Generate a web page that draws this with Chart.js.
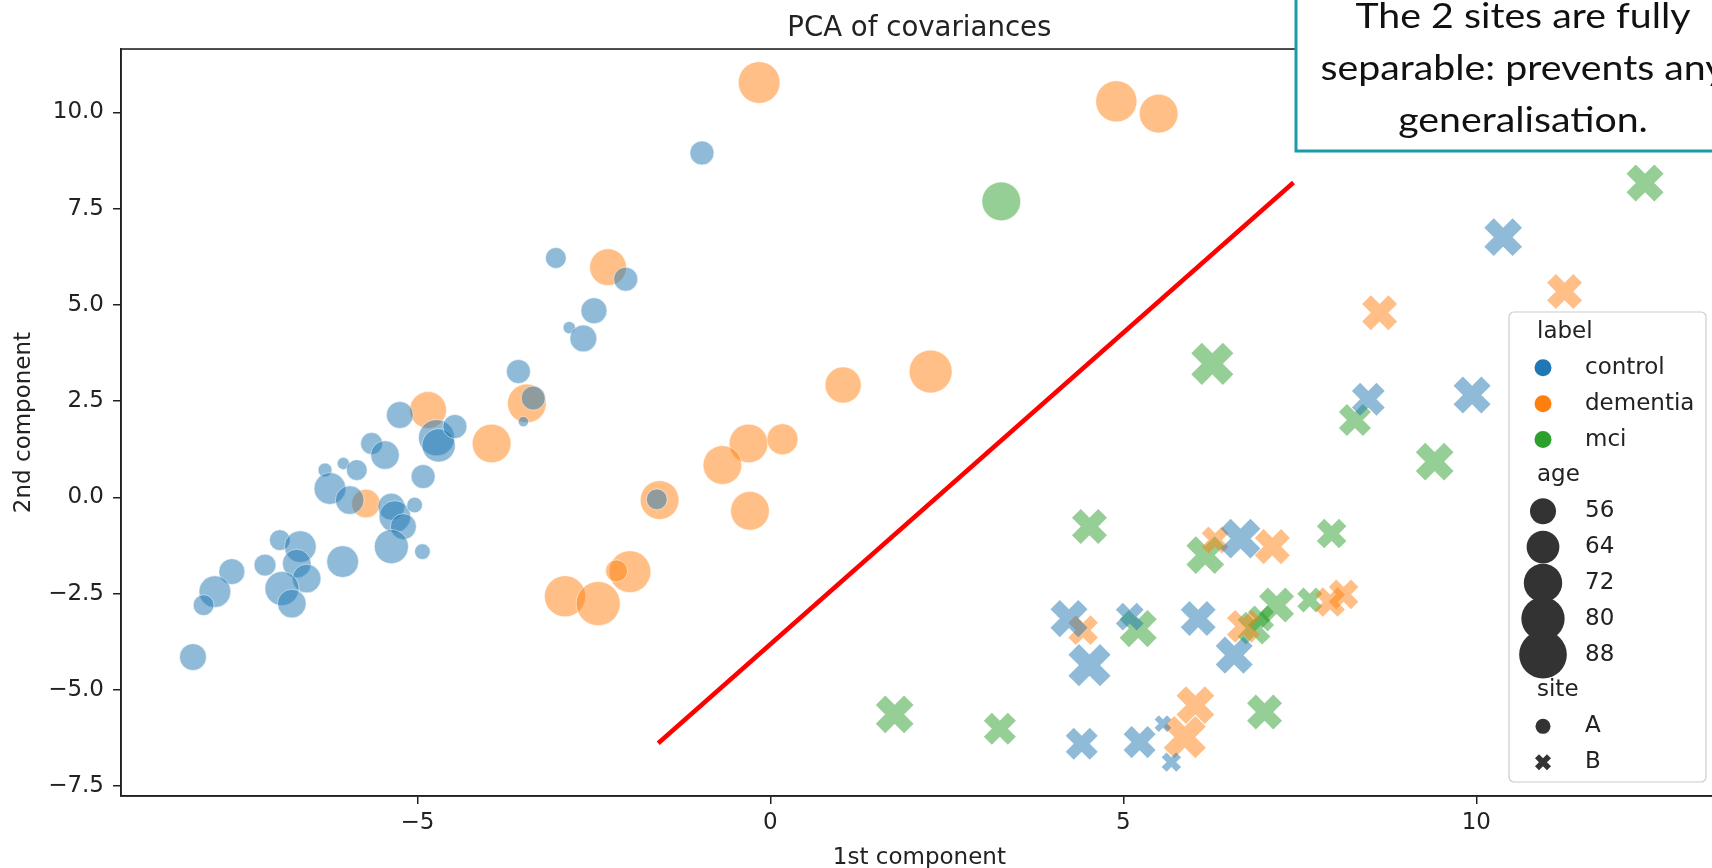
<!DOCTYPE html>
<html>
<head>
<meta charset="utf-8">
<script src="https://cdn.jsdelivr.net/npm/chart.js@4.4.1/dist/chart.umd.min.js"></script>
<style>
  html, body { margin: 0; padding: 0; background: #fff; overflow: hidden; }
  #wrap { position: absolute; left: 0; top: 0; width: 1755px; height: 868px; }
</style>
</head>
<body>
<div id="wrap"><canvas id="pca"></canvas></div>
<script>
/* ---- data: [1st component, 2nd component, age] ---- */
const controlA = [
  [-3.57, 3.27, 55], [-3.36, 2.58, 55], [-3.50, 1.97, 45], [-5.25, 2.14, 58], [-4.73, 1.55, 70],
  [-4.70, 1.35, 66], [-4.47, 1.84, 55], [-4.92, 0.54, 55], [-5.65, 1.40, 53], [-5.46, 1.10, 60],
  [-6.05, 0.88, 46], [-5.86, 0.71, 52], [-6.31, 0.71, 47], [-6.24, 0.23, 64], [-5.96, -0.07, 60],
  [-5.37, -0.24, 58], [-5.32, -0.50, 64], [-5.20, -0.76, 57], [-5.04, -0.20, 48], [-5.37, -1.28, 67],
  [-4.93, -1.41, 48], [-6.06, -1.67, 64], [-6.95, -1.11, 52], [-6.66, -1.28, 64], [-6.71, -1.72, 60],
  [-6.57, -2.11, 60], [-7.16, -1.76, 53], [-6.92, -2.37, 67], [-6.78, -2.76, 60], [-7.63, -1.93, 57],
  [-7.87, -2.45, 64], [-8.03, -2.80, 52], [-8.18, -4.15, 58], [-0.97, 8.95, 55], [-3.04, 6.22, 52],
  [-2.05, 5.67, 55], [-2.50, 4.85, 57], [-2.85, 4.41, 46], [-2.65, 4.13, 58], [-1.61, -0.05, 52]
];
const dementiaA = [
  [-4.85, 2.27, 71], [-3.45, 2.44, 74], [-3.95, 1.40, 74], [-5.73, -0.16, 60], [-0.16, 10.78, 79],
  [-2.30, 5.98, 71], [1.03, 2.92, 70], [2.27, 3.27, 81], [-0.31, 1.40, 74], [0.17, 1.51, 63],
  [-0.68, 0.84, 74], [-0.29, -0.35, 74], [-1.57, -0.07, 74], [-1.99, -1.93, 79], [-2.18, -1.91, 53],
  [-2.91, -2.57, 78], [-2.44, -2.76, 83], [4.90, 10.29, 78], [5.50, 9.97, 74]
];
const mciA = [
  [3.27, 7.69, 74]
];
const controlB = [
  [10.38, 6.76, 71], [8.47, 2.55, 64], [9.94, 2.66, 70], [6.66, -1.07, 74], [4.23, -3.15, 70],
  [4.52, -4.36, 78], [5.09, -3.10, 58], [6.06, -3.15, 67], [6.57, -4.10, 70], [4.41, -6.40, 63],
  [5.23, -6.36, 63], [5.56, -5.88, 48], [5.68, -6.88, 50]
];
const dementiaB = [
  [11.25, 5.35, 67], [8.63, 4.80, 67], [6.30, -1.11, 57], [7.11, -1.28, 67], [4.43, -3.45, 60],
  [7.93, -2.72, 60], [8.12, -2.52, 60], [6.70, -3.35, 64], [6.02, -5.40, 71], [5.87, -6.23, 78]
];
const mciB = [
  [12.39, 8.17, 70], [6.26, 3.47, 78], [8.28, 2.01, 63], [9.41, 0.93, 71], [4.52, -0.76, 67],
  [6.16, -1.50, 71], [7.95, -0.94, 60], [5.21, -3.41, 70], [7.17, -2.80, 67], [7.64, -2.67, 55],
  [6.85, -3.40, 64], [6.95, -3.15, 56], [7.00, -5.58, 67], [1.76, -5.64, 71], [3.25, -6.01, 63]
];

const xRange = [-9.2, 13.42];
const yRange = [-7.76, 11.65];
const ageTicks = [56, 64, 72, 80, 88];
const separator = [[-1.59, -6.39], [7.41, 8.18]];
const noteLines = ['The 2 sites are fully', 'separable: prevents any', 'generalisation.'];

/* ---- styles ---- */
const COLORS = { control: '#1f77b4', dementia: '#ff7f0e', mci: '#2ca02c' };
const INK = '#222';
const FONT = 'DejaVu Sans';

function rgba(hex, a) {
  const n = parseInt(hex.slice(1), 16);
  return `rgba(${n >> 16},${(n >> 8) & 255},${n & 255},${a})`;
}
// age -> marker diameter (area grows linearly with age)
function markerSize(age) { return Math.sqrt(Math.max(676 + 50 * (age - 56), 60)); }
const sizeOf = c => markerSize(c.raw ? c.raw.age : 60);
const toPts = arr => arr.map(([x, y, age]) => ({ x, y, age }));
const minus = s => String(s).replace('-', '\u2212');

function circles(label, arr, color) {
  return {
    label, data: toPts(arr), order: 1, pointStyle: 'circle',
    pointBackgroundColor: rgba(color, 0.5), pointBorderColor: 'rgba(255,255,255,0.5)',
    pointBorderWidth: 1, pointRadius: c => sizeOf(c) / 2 - 0.5, pointHoverRadius: c => sizeOf(c) / 2 - 0.5
  };
}
function crosses(label, arr, color) {
  return {
    label, data: toPts(arr), order: 1, pointStyle: 'crossRot',
    pointBackgroundColor: rgba(color, 0.5), pointBorderColor: rgba(color, 0.5),
    pointBorderWidth: c => 0.354 * sizeOf(c), pointRadius: c => 0.53 * sizeOf(c),
    pointHoverRadius: c => 0.53 * sizeOf(c), pointHoverBorderWidth: c => 0.354 * sizeOf(c)
  };
}

/* ---- legend drawn seaborn style ---- */
const legendRows = [
  { title: 'label' },
  { text: 'control', color: COLORS.control, shape: 'o', size: 17 },
  { text: 'dementia', color: COLORS.dementia, shape: 'o', size: 17 },
  { text: 'mci', color: COLORS.mci, shape: 'o', size: 17 },
  { title: 'age' },
  ...ageTicks.map(a => ({ text: String(a), color: '#333', shape: 'o', size: markerSize(a) })),
  { title: 'site' },
  { text: 'A', color: '#333', shape: 'o', size: 15 },
  { text: 'B', color: '#333', shape: 'x', size: 16 }
];

const legendPlugin = {
  id: 'seabornLegend',
  afterDraw(chart) {
    const ctx = chart.ctx;
    const box = { x: 1509, y: 312, w: 197, h: 470 };
    ctx.save();
    ctx.beginPath();
    ctx.roundRect(box.x, box.y, box.w, box.h, 5);
    ctx.fillStyle = 'rgba(255,255,255,0.8)';
    ctx.fill();
    ctx.strokeStyle = '#cccccc';
    ctx.lineWidth = 1.2;
    ctx.stroke();
    ctx.font = `23px "${FONT}"`;
    ctx.textBaseline = 'middle';
    ctx.textAlign = 'left';
    const y0 = 332, step = 35.85, mx = 1543;
    legendRows.forEach((r, i) => {
      const y = y0 + i * step;
      ctx.fillStyle = INK;
      if (r.title) { ctx.fillText(r.title, 1537, y); return; }
      if (r.shape === 'o') {
        ctx.beginPath();
        ctx.arc(mx, y, r.size / 2, 0, Math.PI * 2);
        ctx.fillStyle = r.color;
        ctx.fill();
      } else {
        const d = 0.53 * r.size * Math.SQRT1_2;
        ctx.beginPath();
        ctx.moveTo(mx - d, y - d); ctx.lineTo(mx + d, y + d);
        ctx.moveTo(mx + d, y - d); ctx.lineTo(mx - d, y + d);
        ctx.strokeStyle = r.color;
        ctx.lineWidth = 0.354 * r.size;
        ctx.stroke();
      }
      ctx.fillStyle = INK;
      ctx.fillText(r.text, 1585, y);
    });
    ctx.restore();
  }
};

/* top/right spines */
const framePlugin = {
  id: 'frame',
  afterDatasetsDraw(chart) {
    const { ctx, chartArea: a } = chart;
    ctx.save();
    ctx.strokeStyle = INK;
    ctx.lineWidth = 1.6;
    ctx.strokeRect(a.left, a.top, a.right - a.left, a.bottom - a.top);
    ctx.restore();
  }
};

/* call-out box */
const notePlugin = {
  id: 'note',
  afterDraw(chart) {
    const ctx = chart.ctx;
    ctx.save();
    ctx.fillStyle = '#fff';
    ctx.fillRect(1296, -10, 480, 161);
    ctx.strokeStyle = '#1b9aaa';
    ctx.lineWidth = 3;
    ctx.strokeRect(1296, -10, 480, 161);
    ctx.font = '34px Lato';
    ctx.fillStyle = '#111';
    ctx.textAlign = 'center';
    ctx.textBaseline = 'alphabetic';
    const sx = 335 / ctx.measureText(noteLines[0]).width;
    ctx.translate(1523, 0);
    ctx.scale(sx, 1);
    noteLines.forEach((t, i) => ctx.fillText(t, 0, 28 + i * 51.8));
    ctx.restore();
  }
};

const tickFont = { family: FONT, size: 23 };

new Chart(document.getElementById('pca'), {
  type: 'scatter',
  data: {
    datasets: [
      { label: 'separation', data: separator.map(([x, y]) => ({ x, y })), showLine: true,
        borderColor: '#ff0000', borderWidth: 4.5, pointRadius: 0, pointHoverRadius: 0, order: 0 },
      circles('control A', controlA, COLORS.control),
      circles('dementia A', dementiaA, COLORS.dementia),
      circles('mci A', mciA, COLORS.mci),
      crosses('control B', controlB, COLORS.control),
      crosses('dementia B', dementiaB, COLORS.dementia),
      crosses('mci B', mciB, COLORS.mci)
    ]
  },
  options: {
    responsive: true, maintainAspectRatio: false, animation: false,
    layout: { padding: { left: 0, right: 22, top: 0, bottom: 0 } },
    plugins: {
      legend: { display: false }, tooltip: { enabled: false },
      title: { display: true, text: 'PCA of covariances', fullSize: false, color: INK,
        font: { family: FONT, size: 27.6, weight: 'normal' }, padding: { top: 12.2, bottom: 3.7 } }
    },
    scales: {
      x: {
        type: 'linear', min: xRange[0], max: xRange[1],
        afterFit: s => { s.height = 72; s.paddingLeft = 0; s.paddingRight = 0; },
        ticks: { stepSize: 5, includeBounds: false, color: INK, font: tickFont, padding: 5, maxRotation: 0,
          callback: v => minus(v) },
        grid: { drawOnChartArea: false, drawTicks: true, tickLength: 8, color: INK, lineWidth: 1.5 },
        border: { display: true, color: INK, width: 1.6 },
        title: { display: true, text: '1st component', color: INK, font: tickFont, padding: { top: 0, bottom: -4 } }
      },
      y: {
        type: 'linear', min: yRange[0], max: yRange[1],
        afterFit: s => { s.width = 121; },
        ticks: { stepSize: 2.5, includeBounds: false, color: INK, font: tickFont, padding: 9,
          callback: v => minus(v.toFixed(1)) },
        grid: { drawOnChartArea: false, drawTicks: true, tickLength: 8, color: INK, lineWidth: 1.5 },
        border: { display: true, color: INK, width: 1.6 },
        title: { display: true, text: '2nd component', color: INK, font: tickFont, padding: { top: 10, bottom: 0 } }
      }
    }
  },
  plugins: [framePlugin, legendPlugin, notePlugin]
});
</script>
</body>
</html>
